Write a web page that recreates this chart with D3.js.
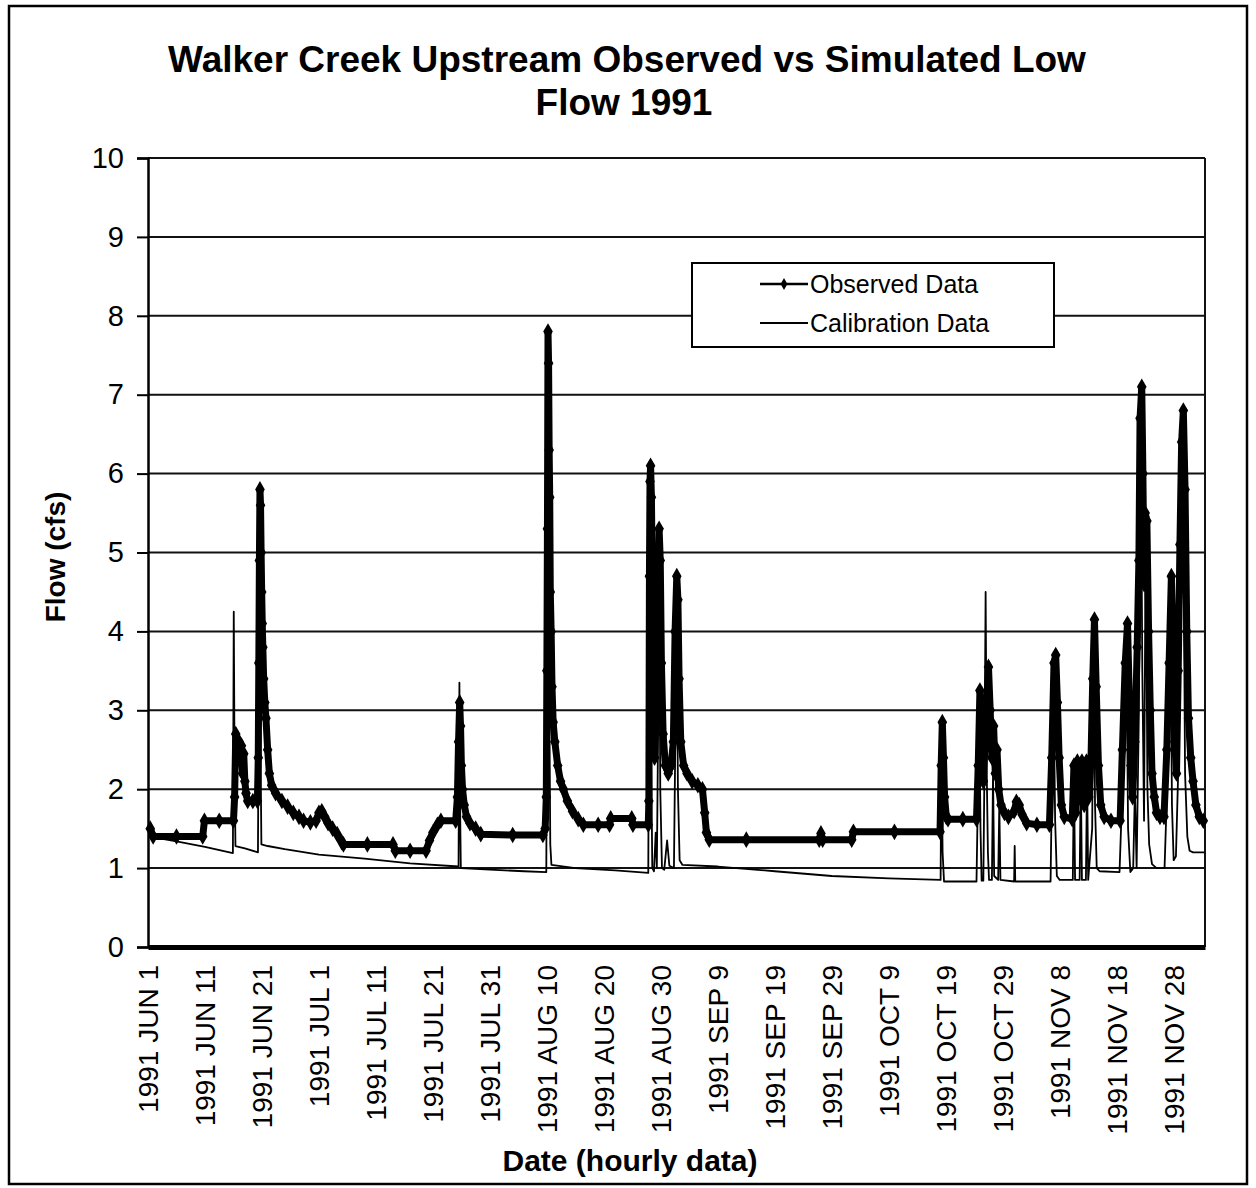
<!DOCTYPE html>
<html>
<head>
<meta charset="utf-8">
<script src="https://cdn.jsdelivr.net/npm/d3@7"></script>
<style>
  body { margin: 0; background: #fff; }
  text { font-family: "Liberation Sans", Arial, sans-serif; fill: #000; }
</style>
</head>
<body>
<script>

// values, [days since 1991 JUN 1 00:00, flow cfs]
var observed = [
  [0.4,1.5],[0.9,1.4],[5,1.4],[9.6,1.4],[9.9,1.6],[12.5,1.6],[15.0,1.6],[15.2,1.9],[15.4,2.7],[15.6,2.6],
  [15.8,2.45],[16.0,2.6],[16.2,2.35],[16.4,2.55],[16.6,2.2],[16.8,2.45],[17.0,2.1],[17.2,1.95],[17.5,1.85],[18.4,1.85],
  [19.2,1.85],[19.35,2.4],[19.45,3.6],[19.55,4.9],[19.65,5.8],[19.75,5.6],[19.85,5.0],[19.95,4.5],[20.05,4.1],[20.15,3.8],
  [20.3,3.4],[20.5,3.1],[20.7,2.9],[21.0,2.5],[21.3,2.2],[21.7,2.05],[22.4,1.95],[23.5,1.85],[24.5,1.78],[25.5,1.7],
  [26.5,1.65],[27.3,1.6],[28.5,1.58],[29.5,1.6],[30.0,1.7],[30.5,1.72],[31.0,1.65],[31.6,1.57],[32.4,1.5],[33.2,1.43],
  [34.0,1.33],[34.3,1.3],[38.5,1.3],[43.0,1.3],[43.4,1.22],[46,1.22],[48.8,1.22],[49.4,1.35],[50.0,1.45],[50.8,1.55],
  [51.4,1.6],[54.0,1.6],[54.3,1.9],[54.5,2.6],[54.7,3.1],[54.85,2.8],[55.0,2.3],[55.2,2.0],[55.5,1.8],[55.9,1.65],
  [56.5,1.57],[57.5,1.5],[58.4,1.43],[64,1.42],[69.3,1.42],[69.7,1.5],[69.9,1.9],[70.0,3.5],[70.1,5.3],[70.2,7.8],
  [70.3,7.4],[70.4,6.3],[70.5,5.7],[70.6,4.5],[70.75,4.0],[70.9,3.3],[71.1,2.85],[71.4,2.6],[71.9,2.3],[72.4,2.1],
  [72.9,2.0],[73.6,1.85],[74.5,1.72],[75.5,1.62],[76.4,1.55],[79,1.55],[81.0,1.55],[81.2,1.63],[84.9,1.63],[85.1,1.55],
  [87.8,1.55],[87.9,1.85],[88.0,4.7],[88.1,5.9],[88.2,6.1],[88.35,5.7],[88.5,4.6],[88.7,3.0],[88.9,2.4],[89.2,3.5],
  [89.5,4.4],[89.7,5.3],[89.9,4.9],[90.1,3.6],[90.4,2.7],[90.8,2.3],[91.3,2.2],[91.8,2.3],[92.2,2.6],[92.5,4.0],
  [92.8,4.7],[93.0,4.4],[93.2,3.4],[93.5,2.6],[94.0,2.3],[94.6,2.2],[95.5,2.1],[96.5,2.05],[97.3,2.0],[97.7,1.7],
  [98.0,1.45],[98.5,1.36],[105,1.36],[117.8,1.36],[118.1,1.44],[118.4,1.36],[123.5,1.36],[123.8,1.46],[131,1.46],[139.0,1.46],
  [139.2,2.3],[139.4,2.85],[139.6,2.4],[139.8,1.9],[140.1,1.65],[140.4,1.62],[143,1.62],[145.4,1.62],[145.7,2.3],[146.0,3.25],
  [146.3,2.7],[146.6,2.1],[146.9,2.6],[147.2,3.1],[147.5,3.55],[147.8,3.0],[148.1,2.4],[148.4,2.8],[148.7,2.2],[149.0,2.5],
  [149.3,2.0],[149.7,1.8],[150.3,1.7],[151.0,1.65],[152.0,1.72],[152.4,1.84],[152.9,1.8],[153.4,1.68],[154.2,1.57],[156,1.55],
  [158.2,1.55],[158.6,2.4],[159.0,3.6],[159.3,3.7],[159.6,3.1],[159.9,2.4],[160.3,1.8],[160.8,1.65],[162.2,1.62],[162.5,2.3],
  [162.8,1.7],[163.1,2.35],[163.5,1.9],[163.9,2.35],[164.3,1.8],[164.7,2.35],[165.1,1.9],[165.5,2.4],[165.8,3.4],[166.1,4.15],
  [166.4,3.3],[166.8,2.3],[167.2,1.8],[167.8,1.65],[169.0,1.6],[170.6,1.6],[171.0,2.5],[171.5,3.6],[171.9,4.1],[172.2,3.2],
  [172.5,2.3],[172.8,1.9],[173.2,2.6],[173.6,3.8],[173.9,4.9],[174.1,6.7],[174.4,7.1],[174.6,6.0],[174.8,4.6],[175.0,5.5],
  [175.3,5.4],[175.6,4.0],[175.9,3.0],[176.2,2.2],[176.6,1.9],[177.0,1.7],[177.6,1.65],[178.3,1.65],[178.8,2.5],[179.2,3.6],
  [179.6,4.7],[179.9,3.8],[180.2,2.6],[180.5,2.2],[180.8,3.5],[181.1,5.1],[181.4,6.4],[181.7,6.8],[182.0,5.8],[182.3,4.0],
  [182.6,2.9],[183.0,2.4],[183.4,2.1],[183.9,1.8],[184.5,1.65],[185.2,1.6]
];

var calibration = [
  [0.3,1.4],[5,1.34],[10,1.27],[14.9,1.19],[15.05,4.25],[15.2,2.2],[15.35,1.28],[17,1.25],[19.3,1.2],[19.45,3.5],
  [19.6,5.5],[19.75,2.5],[19.9,1.3],[21,1.28],[24,1.24],[30,1.17],[38,1.12],[46,1.06],[54.5,1.02],[54.65,3.35],
  [54.8,1.6],[54.9,1.0],[60,0.98],[66,0.96],[69.9,0.95],[70.0,3.0],[70.15,7.6],[70.35,4.0],[70.6,1.3],[70.8,1.04],
  [75,1.0],[82,0.97],[87.8,0.94],[87.95,4.0],[88.1,5.8],[88.3,2.5],[88.5,1.0],[88.8,0.96],[89.1,1.45],[89.3,1.0],
  [89.55,3.0],[89.7,5.0],[89.9,2.0],[90.2,1.0],[90.6,0.98],[91.1,1.35],[91.5,1.03],[92.3,1.0],[92.6,3.0],[92.75,4.5],
  [93.0,2.0],[93.3,1.1],[93.8,1.04],[100,1.02],[110,0.96],[120,0.9],[130,0.87],[139.1,0.85],[139.25,2.6],[139.45,1.2],
  [139.7,0.83],[145.4,0.83],[145.7,2.2],[145.9,2.9],[146.1,1.5],[146.3,0.84],[146.6,0.84],[146.8,2.3],[147.0,4.5],[147.2,2.2],
  [147.4,1.2],[147.6,0.85],[148.1,0.85],[148.3,2.2],[148.5,0.9],[149.2,0.85],[149.4,1.8],[149.6,0.85],[152.0,0.83],[152.1,1.28],
  [152.2,0.83],[158.4,0.83],[158.7,2.4],[158.9,3.4],[159.2,1.6],[159.5,0.9],[160,0.85],[162.3,0.85],[162.5,2.2],[162.7,0.85],
  [163.5,0.85],[163.7,2.2],[163.9,0.85],[164.6,0.85],[164.8,2.2],[165.0,0.85],[165.7,1.5],[165.95,4.0],[166.2,1.8],[166.5,1.0],
  [167,0.96],[170.5,0.95],[171.0,2.0],[171.7,4.0],[172.0,1.5],[172.4,0.95],[172.9,1.0],[173.2,2.0],[173.5,1.0],[173.9,3.0],
  [174.2,6.9],[174.5,3.5],[174.8,1.6],[175.1,5.3],[175.4,2.0],[175.7,1.3],[176.2,1.05],[177,1.0],[178.4,1.0],[178.8,1.9],
  [179.4,4.6],[179.7,1.8],[180.0,1.1],[180.4,1.15],[180.9,2.5],[181.6,6.6],[182.0,2.2],[182.4,1.4],[182.8,1.22],[183.4,1.2],
  [184.2,1.2],[185.4,1.2]
];

var xTickDates = ["1991-06-01","1991-06-11","1991-06-21","1991-07-01","1991-07-11","1991-07-21","1991-07-31",
  "1991-08-10","1991-08-20","1991-08-30","1991-09-09","1991-09-19","1991-09-29","1991-10-09","1991-10-19",
  "1991-10-29","1991-11-08","1991-11-18","1991-11-28"];
var xTickLabels = ["1991 JUN 1","1991 JUN 11","1991 JUN 21","1991 JUL 1","1991 JUL 11","1991 JUL 21","1991 JUL 31",
  "1991 AUG 10","1991 AUG 20","1991 AUG 30","1991 SEP 9","1991 SEP 19","1991 SEP 29","1991 OCT 9","1991 OCT 19",
  "1991 OCT 29","1991 NOV 8","1991 NOV 18","1991 NOV 28"];
var yTicks = [0,1,2,3,4,5,6,7,8,9,10];

//setting dimensions
var svgWidth = 1256, svgHeight = 1188,
    margin = {top: 158, right: 51, bottom: 241, left: 148},
    width = svgWidth - margin.left - margin.right,
    height = svgHeight - margin.top - margin.bottom;

var parseDay = d3.timeParse("%Y-%m-%d");
var start = parseDay("1991-06-01");
function toDate(day) { return d3.timeMinute.offset(start, Math.round(day * 1440)); }

//setting ranges
var x = d3.scaleTime().domain([start, toDate(185.5)]).range([0, width]);
var y = d3.scaleLinear().domain([0, 10]).range([height, 0]);

var line = d3.line()
    .x(function(d) { return x(toDate(d[0])); })
    .y(function(d) { return y(d[1]); });

var root = d3.select("body").append("svg")
    .attr("width", svgWidth)
    .attr("height", svgHeight);

// outer frame
root.append("rect")
    .attr("x", 9).attr("y", 6)
    .attr("width", 1238).attr("height", 1178)
    .attr("fill", "none").attr("stroke", "#000").attr("stroke-width", 2.5);

// title
root.append("text")
    .attr("x", 627).attr("y", 72)
    .style("text-anchor", "middle").style("font-weight", "bold").style("font-size", "37px")
    .text("Walker Creek Upstream Observed vs Simulated Low");
root.append("text")
    .attr("x", 624).attr("y", 115)
    .style("text-anchor", "middle").style("font-weight", "bold").style("font-size", "37px")
    .text("Flow 1991");

var svg = root.append("g")
    .attr("transform", "translate(" + margin.left + "," + margin.top + ")");

// gridlines
svg.append("g")
    .selectAll("line")
    .data(yTicks.filter(function(d) { return d > 0; }))
    .enter().append("line")
    .attr("x1", 0).attr("x2", width)
    .attr("y1", function(d) { return y(d); })
    .attr("y2", function(d) { return y(d); })
    .attr("stroke", "#111").attr("stroke-width", 2);

// right border
svg.append("line")
    .attr("x1", width).attr("x2", width).attr("y1", 0).attr("y2", height)
    .attr("stroke", "#111").attr("stroke-width", 2);

// calibration line
svg.append("path")
    .datum(calibration)
    .attr("fill", "none").attr("stroke", "#000").attr("stroke-width", 1.8)
    .attr("stroke-linejoin", "round")
    .attr("d", line);

// observed line with diamond markers
svg.append("path")
    .datum(observed)
    .attr("fill", "none").attr("stroke", "#000").attr("stroke-width", 7)
    .attr("stroke-linejoin", "round")
    .attr("d", line);

var diamond = d3.symbol().type(d3.symbolDiamond).size(80);
svg.append("g")
    .selectAll("path")
    .data(observed)
    .enter().append("path")
    .attr("d", diamond)
    .attr("transform", function(d) { return "translate(" + x(toDate(d[0])) + "," + y(d[1]) + ")"; })
    .attr("fill", "#000");

// Y axis
var yAxis = svg.append("g")
    .call(d3.axisLeft(y).tickValues(yTicks).tickSize(11).tickPadding(13));
yAxis.select(".domain").attr("stroke-width", 2.5);
yAxis.selectAll(".tick line").attr("stroke-width", 2);
yAxis.selectAll("text").style("font-size", "29px").style("font-family", "'Liberation Sans', Arial, sans-serif");

// X axis
var xAxis = svg.append("g")
    .attr("transform", "translate(0," + height + ")")
    .call(d3.axisBottom(x)
        .tickValues(xTickDates.map(parseDay))
        .tickSize(0)
        .tickFormat(function(d, i) { return xTickLabels[i]; }));
xAxis.select(".domain").attr("stroke-width", 5);
xAxis.selectAll("text")
    .style("font-size", "28px")
    .style("font-family", "'Liberation Sans', Arial, sans-serif")
    .style("text-anchor", "end")
    .attr("x", -18)
    .attr("y", 0)
    .attr("dy", ".35em")
    .attr("transform", "rotate(-90)");

// text label for the x axis
svg.append("text")
    .attr("x", 630 - margin.left)
    .attr("y", 1171 - margin.top)
    .style("text-anchor", "middle").style("font-weight", "bold").style("font-size", "30px")
    .text("Date (hourly data)");

// text label for the y axis
svg.append("text")
    .attr("transform", "rotate(-90)")
    .attr("x", -(557 - margin.top))
    .attr("y", 65 - margin.left)
    .style("text-anchor", "middle").style("font-weight", "bold").style("font-size", "28px")
    .text("Flow (cfs)");

// legend
var legend = root.append("g").attr("transform", "translate(692,263)");
legend.append("rect")
    .attr("width", 362).attr("height", 84)
    .attr("fill", "#fff").attr("stroke", "#000").attr("stroke-width", 2);
legend.append("line")
    .attr("x1", 68).attr("x2", 116).attr("y1", 21).attr("y2", 21)
    .attr("stroke", "#000").attr("stroke-width", 2.5);
legend.append("path")
    .attr("d", d3.symbol().type(d3.symbolDiamond).size(40))
    .attr("transform", "translate(92,21)");
legend.append("text")
    .attr("x", 118).attr("y", 21).attr("dy", ".35em")
    .style("font-size", "25px")
    .text("Observed Data");
legend.append("line")
    .attr("x1", 68).attr("x2", 116).attr("y1", 60).attr("y2", 60)
    .attr("stroke", "#000").attr("stroke-width", 2);
legend.append("text")
    .attr("x", 118).attr("y", 60).attr("dy", ".35em")
    .style("font-size", "25px")
    .text("Calibration Data");

</script>
</body>
</html>
